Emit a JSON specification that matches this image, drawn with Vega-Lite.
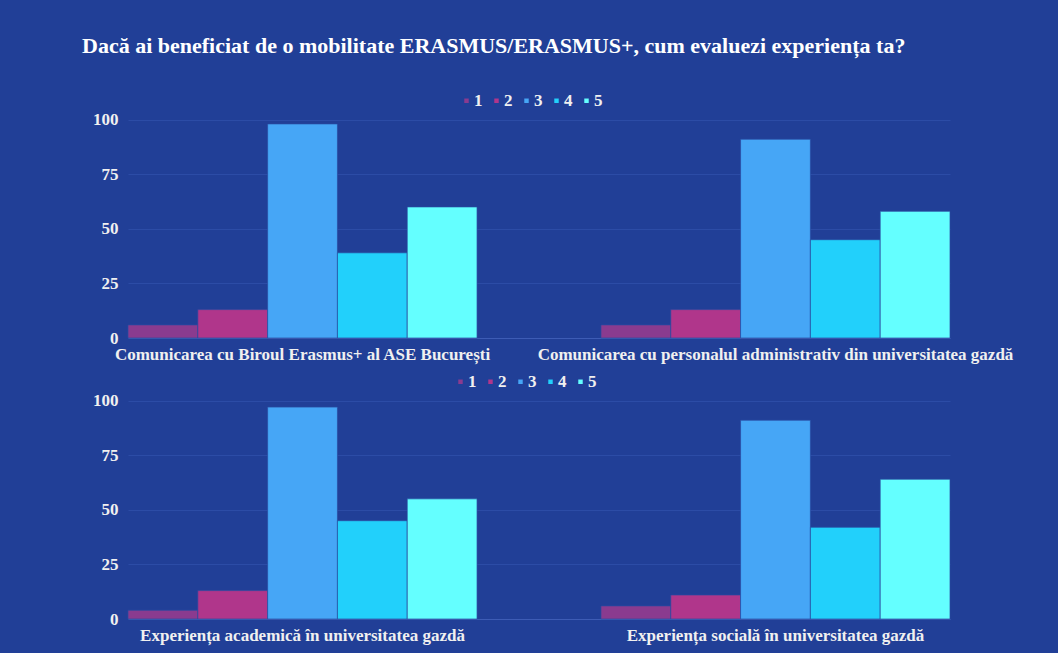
{
  "$schema": "https://vega.github.io/schema/vega-lite/v6.json",
  "background": "#213f97",
  "padding": {"left": 82, "top": 35, "right": 45, "bottom": 10},
  "title": {
    "text": "Dacă ai beneficiat de o mobilitate ERASMUS/ERASMUS+, cum evaluezi experiența ta?",
    "anchor": "start",
    "frame": "group",
    "dx": -46,
    "offset": 34,
    "font": "Liberation Serif",
    "fontSize": 22,
    "fontWeight": "bold",
    "color": "#ffffff"
  },
  "bounds": "flush",
  "spacing": 56,
  "resolve": {"scale": {"color": "independent", "x": "independent"}, "legend": {"color": "independent"}},
  "datasets": {
    "top": [
      {"categorie": "Comunicarea cu Biroul Erasmus+ al ASE București", "nota": "1", "valoare": 6},
      {"categorie": "Comunicarea cu Biroul Erasmus+ al ASE București", "nota": "2", "valoare": 13},
      {"categorie": "Comunicarea cu Biroul Erasmus+ al ASE București", "nota": "3", "valoare": 98},
      {"categorie": "Comunicarea cu Biroul Erasmus+ al ASE București", "nota": "4", "valoare": 39},
      {"categorie": "Comunicarea cu Biroul Erasmus+ al ASE București", "nota": "5", "valoare": 60},
      {"categorie": "Comunicarea cu personalul administrativ din universitatea gazdă", "nota": "1", "valoare": 6},
      {"categorie": "Comunicarea cu personalul administrativ din universitatea gazdă", "nota": "2", "valoare": 13},
      {"categorie": "Comunicarea cu personalul administrativ din universitatea gazdă", "nota": "3", "valoare": 91},
      {"categorie": "Comunicarea cu personalul administrativ din universitatea gazdă", "nota": "4", "valoare": 45},
      {"categorie": "Comunicarea cu personalul administrativ din universitatea gazdă", "nota": "5", "valoare": 58}
    ],
    "bottom": [
      {"categorie": "Experiența academică în universitatea gazdă", "nota": "1", "valoare": 4},
      {"categorie": "Experiența academică în universitatea gazdă", "nota": "2", "valoare": 13},
      {"categorie": "Experiența academică în universitatea gazdă", "nota": "3", "valoare": 97},
      {"categorie": "Experiența academică în universitatea gazdă", "nota": "4", "valoare": 45},
      {"categorie": "Experiența academică în universitatea gazdă", "nota": "5", "valoare": 55},
      {"categorie": "Experiența socială în universitatea gazdă", "nota": "1", "valoare": 6},
      {"categorie": "Experiența socială în universitatea gazdă", "nota": "2", "valoare": 11},
      {"categorie": "Experiența socială în universitatea gazdă", "nota": "3", "valoare": 91},
      {"categorie": "Experiența socială în universitatea gazdă", "nota": "4", "valoare": 42},
      {"categorie": "Experiența socială în universitatea gazdă", "nota": "5", "valoare": 64}
    ]
  },
  "vconcat": [
    {
      "width": 822,
      "height": 225,
      "data": {"name": "top"},
      "mark": {"type": "bar", "stroke": "#2a4aa0", "strokeWidth": 0.7},
      "encoding": {
        "x": {"field": "categorie", "type": "nominal", "sort": null,
              "scale": {"paddingInner": 0.262, "paddingOuter": 0}},
        "xOffset": {"field": "nota", "type": "nominal", "scale": {"paddingInner": 0, "paddingOuter": 0}},
        "y": {"field": "valoare", "type": "quantitative", "scale": {"domain": [0, 103], "nice": false},
              "axis": {"values": [0, 25, 50, 75, 100]}},
        "color": {"field": "nota", "type": "nominal",
                  "scale": {"domain": ["1", "2", "3", "4", "5"], "range": ["#8a3b8f", "#b0368b", "#46a6f6", "#22d0fb", "#64ffff"]},
                  "legend": {"orient": "none", "legendX": 330, "legendY": -21, "direction": "horizontal"}}
      }
    },
    {
      "width": 822,
      "height": 225,
      "data": {"name": "bottom"},
      "mark": {"type": "bar", "stroke": "#2a4aa0", "strokeWidth": 0.7},
      "encoding": {
        "x": {"field": "categorie", "type": "nominal", "sort": null,
              "scale": {"paddingInner": 0.262, "paddingOuter": 0}},
        "xOffset": {"field": "nota", "type": "nominal", "scale": {"paddingInner": 0, "paddingOuter": 0}},
        "y": {"field": "valoare", "type": "quantitative", "scale": {"domain": [0, 103], "nice": false},
              "axis": {"values": [0, 25, 50, 75, 100]}},
        "color": {"field": "nota", "type": "nominal",
                  "scale": {"domain": ["1", "2", "3", "4", "5"], "range": ["#8a3b8f", "#b0368b", "#46a6f6", "#22d0fb", "#64ffff"]},
                  "legend": {"orient": "none", "legendX": 324, "legendY": -21, "direction": "horizontal"}}
      }
    }
  ],
  "config": {
    "view": {"stroke": null},
    "font": "Liberation Serif",
    "axisY": {
      "title": null, "domain": false, "ticks": false, "grid": true, "gridColor": "#2c4ca6", "gridWidth": 1,
      "labelFont": "Liberation Serif", "labelFontSize": 17, "labelFontWeight": "bold", "labelColor": "#f0f0f0", "labelPadding": 10
    },
    "axisX": {
      "title": null, "domain": true, "domainColor": "#3d5cb5", "domainWidth": 1, "ticks": false, "grid": false, "labelAngle": 0,
      "labelFont": "Liberation Serif", "labelFontSize": 17, "labelFontWeight": "bold", "labelColor": "#f0f0f0", "labelPadding": 8,
      "labelLimit": 600
    },
    "legend": {
      "title": null, "symbolType": "square", "symbolSize": 20, "symbolStrokeWidth": 0,
      "labelFont": "Liberation Serif", "labelFontSize": 17, "labelFontWeight": "bold", "labelColor": "#f0f0f0",
      "columnPadding": 5, "labelOffset": -1
    }
  }
}
